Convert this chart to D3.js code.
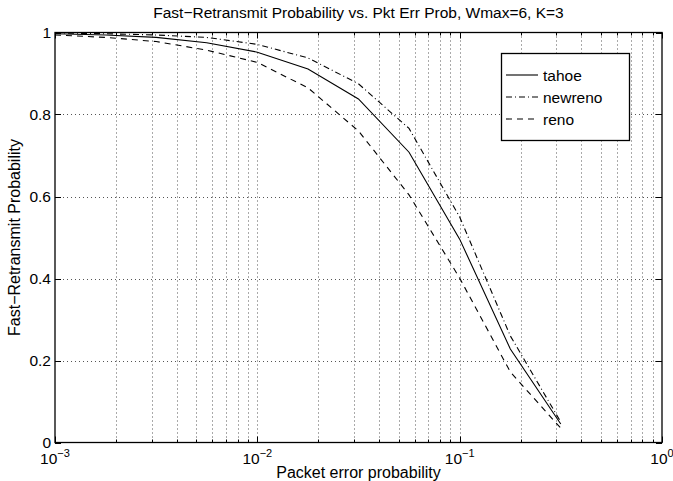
<!DOCTYPE html>
<html><head><meta charset="utf-8">
<script src="https://cdn.jsdelivr.net/npm/d3@7"></script>
<style>body{margin:0;background:#fff}text{font-family:"Liberation Sans",Arial,sans-serif}</style>
</head><body><svg id="c" width="673" height="481"></svg>
<script>
const pktErr = [0.001, 0.00178, 0.00316, 0.00562, 0.01, 0.0178, 0.0316, 0.0562, 0.1, 0.178, 0.316];
const tahoe   = [0.997, 0.994, 0.988, 0.975, 0.952, 0.911, 0.838, 0.708, 0.496, 0.228, 0.045];
const newreno = [0.999, 0.997, 0.994, 0.988, 0.971, 0.938, 0.875, 0.766, 0.550, 0.260, 0.050];
const reno    = [0.994, 0.988, 0.978, 0.957, 0.927, 0.865, 0.760, 0.604, 0.401, 0.172, 0.035];
const seriesNames = ["tahoe", "newreno", "reno"];
const xMajor = [0.001, 0.01, 0.1, 1];
const xMajorExp = ["-3", "-2", "-1", "0"];
const yTicks = [0, 0.2, 0.4, 0.6, 0.8, 1];
const yTickLabels = ["0", "0.2", "0.4", "0.6", "0.8", "1"];

const L = 55, R = 662, T = 32.5, B = 442.5;
const svg = d3.select("#c");
const x = d3.scaleLog().domain([0.001, 1]).range([L, R]);
const y = d3.scaleLinear().domain([0, 1]).range([B, T]);

const minor = [];
for (let e = -3; e < 0; e++) for (let m = 2; m <= 9; m++) minor.push(m * Math.pow(10, e));

const grid = svg.append("g").attr("stroke", "#555").attr("stroke-width", 1).attr("stroke-dasharray", "1,3");
minor.concat(xMajor.slice(1, 3)).forEach(v => {
  grid.append("line").attr("x1", Math.round(x(v)) + 0.5).attr("x2", Math.round(x(v)) + 0.5).attr("y1", T).attr("y2", B);
});
yTicks.slice(1, 5).forEach(v => {
  grid.append("line").attr("y1", Math.round(y(v)) + 0.5).attr("y2", Math.round(y(v)) + 0.5).attr("x1", L).attr("x2", R);
});

const tk = svg.append("g").attr("stroke", "#000").attr("stroke-width", 1);
xMajor.forEach(v => {
  const xx = Math.round(x(v)) + 0.5;
  tk.append("line").attr("x1", xx).attr("x2", xx).attr("y1", B).attr("y2", B - 6);
  tk.append("line").attr("x1", xx).attr("x2", xx).attr("y1", T).attr("y2", T + 6);
});
minor.forEach(v => {
  const xx = Math.round(x(v)) + 0.5;
  tk.append("line").attr("x1", xx).attr("x2", xx).attr("y1", B).attr("y2", B - 3);
  tk.append("line").attr("x1", xx).attr("x2", xx).attr("y1", T).attr("y2", T + 3);
});
yTicks.forEach(v => {
  const yy = Math.round(y(v)) + 0.5;
  tk.append("line").attr("x1", L).attr("x2", L + 6).attr("y1", yy).attr("y2", yy);
  tk.append("line").attr("x1", R).attr("x2", R - 6).attr("y1", yy).attr("y2", yy);
});

svg.append("rect").attr("x", L).attr("y", T).attr("width", R - L).attr("height", B - T)
  .attr("fill", "none").attr("stroke", "#000").attr("stroke-width", 1.3);

yTicks.forEach((v, i) => {
  svg.append("text").attr("x", L - 4).attr("y", y(v) + 5).attr("text-anchor", "end")
    .attr("font-size", 15.5).text(yTickLabels[i]);
});
xMajor.forEach((v, i) => {
  const t = svg.append("text").attr("x", x(v)).attr("y", 464).attr("text-anchor", "middle").attr("font-size", 15.5);
  t.append("tspan").text("10");
  t.append("tspan").attr("dy", -7).attr("font-size", 11).text(xMajorExp[i] === "0" ? "0" : "\u2212" + xMajorExp[i].slice(1));
});

svg.append("text").attr("x", (L + R) / 2).attr("y", 18).attr("text-anchor", "middle").attr("font-size", 15.5)
  .text("Fast\u2212Retransmit Probability vs. Pkt Err Prob, Wmax=6, K=3");
svg.append("text").attr("x", (L + R) / 2).attr("y", 478).attr("text-anchor", "middle").attr("font-size", 16)
  .text("Packet error probability");
svg.append("text").attr("transform", `translate(20,${(T + B) / 2}) rotate(-90)`).attr("text-anchor", "middle").attr("font-size", 16)
  .text("Fast\u2212Retransmit Probability");

const dash = {tahoe: null, newreno: "6,3,1,3", reno: "6,5"};
const data = {tahoe, newreno, reno};
const line = d3.line().x((d, i) => x(pktErr[i])).y(d => y(d));
seriesNames.forEach(n => {
  svg.append("path").datum(data[n]).attr("d", line).attr("fill", "none")
    .attr("stroke", "#000").attr("stroke-width", 1.1).attr("stroke-dasharray", dash[n]);
});

const lg = svg.append("g");
lg.append("rect").attr("x", 501.5).attr("y", 53.5).attr("width", 128).attr("height", 87)
  .attr("fill", "#fff").attr("stroke", "#000").attr("stroke-width", 1.3);
seriesNames.forEach((n, i) => {
  const yy = 75 + i * 22;
  lg.append("line").attr("x1", 506).attr("x2", 538).attr("y1", yy).attr("y2", yy)
    .attr("stroke", "#000").attr("stroke-width", 1.1).attr("stroke-dasharray", dash[n]);
  lg.append("text").attr("x", 543).attr("y", yy + 5.5).attr("font-size", 15.5).text(n);
});
</script></body></html>
